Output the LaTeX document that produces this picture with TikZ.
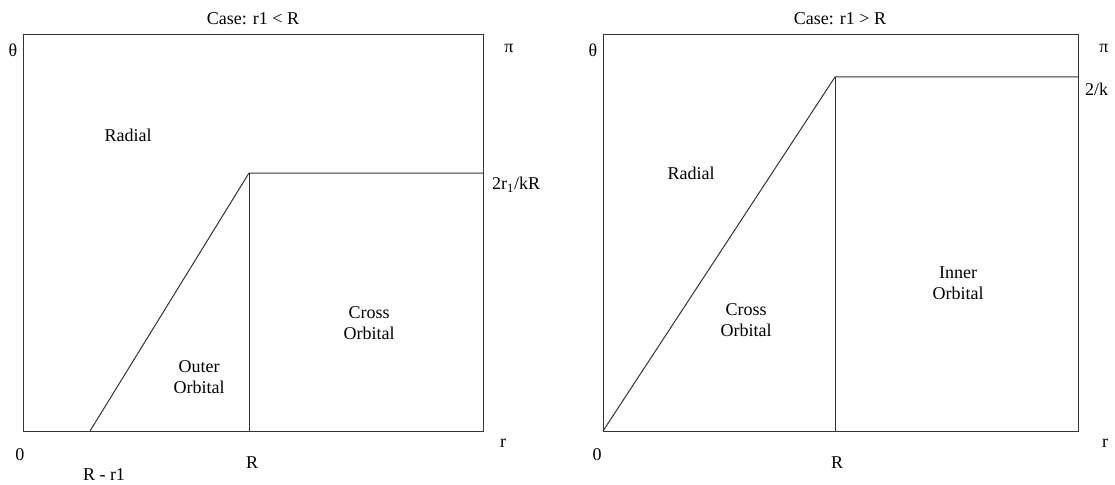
\documentclass[tikz,border=0pt]{standalone}
\usepackage{fontspec}
\setmainfont{Liberation Serif}
\begin{document}
\begin{tikzpicture}[x=1pt,y=-1pt,
  lbl/.style={inner sep=0pt,font=\fontsize{18}{21}\selectfont},
  ln/.style={draw=black!80,line width=1pt}]
\useasboundingbox (0,0) rectangle (1115,484);
% left panel
\coordinate (LBL) at (23,431);
\coordinate (LTR) at (483,35);
\coordinate (LK) at (249,173);
\coordinate (LS) at (90,431);
\coordinate (LKb) at (249,431);
\coordinate (LKr) at (483,173);
\draw[ln] (LBL) rectangle (LTR);
\draw[ln] (LS) -- (LK) -- (LKr);
\draw[ln] (LK) -- (LKb);
\node[lbl] (lt) at (253,19) {Case: r1 < R};
\node[lbl] (lth) at (13,50) {θ};
\node[lbl] (lpi) at (509,48) {π};
\node[lbl,anchor=west] (lk) at (492,185) {2r\textsubscript{1}/kR};
\node[lbl] (lr) at (503,443) {r};
\node[lbl] (l0) at (20,455) {0};
\node[lbl] (lR) at (252,463) {R};
\node[lbl] (lRr) at (104,475) {R - r1};
\node[lbl] (lrad) at (128,135) {Radial};
\node[lbl,align=center] (lout) at (199,377) {Outer\\Orbital};
\node[lbl,align=center] (lcross) at (369,323) {Cross\\Orbital};
% right panel
\coordinate (RBL) at (603,431);
\coordinate (RTR) at (1078,35);
\coordinate (RK) at (835,77);
\coordinate (RKb) at (835,431);
\coordinate (RKr) at (1078,77);
\draw[ln] (RBL) rectangle (RTR);
\draw[ln] (RBL) -- (RK) -- (RKr);
\draw[ln] (RK) -- (RKb);
\node[lbl] (rt) at (840,19) {Case: r1 > R};
\node[lbl] (rth) at (593,50) {θ};
\node[lbl] (rpi) at (1104,48) {π};
\node[lbl,anchor=west] (rk) at (1085,89) {2/k};
\node[lbl] (rr) at (1105,443) {r};
\node[lbl] (r0) at (597,455) {0};
\node[lbl] (rR) at (837,463) {R};
\node[lbl] (rrad) at (691,173) {Radial};
\node[lbl,align=center] (rcross) at (746,320) {Cross\\Orbital};
\node[lbl,align=center] (rinner) at (958,283) {Inner\\Orbital};
\end{tikzpicture}
\end{document}
